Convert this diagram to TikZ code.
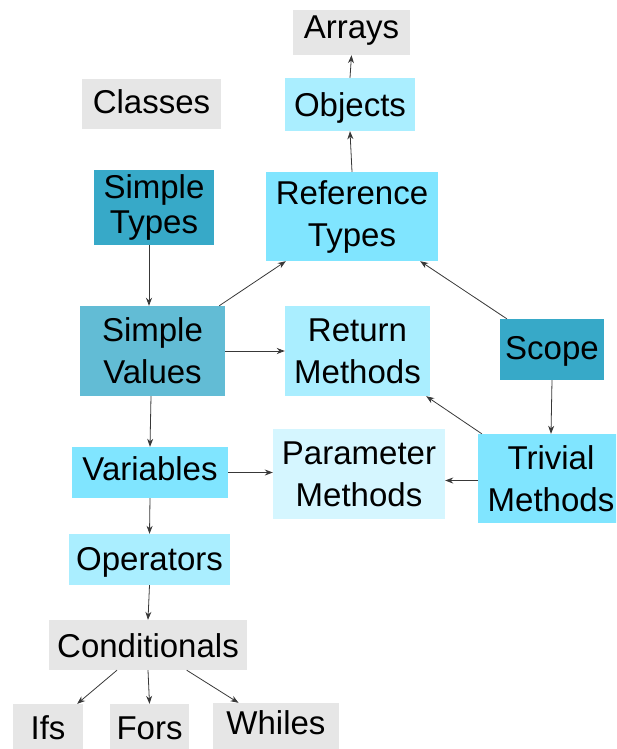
\documentclass[tikz,border=0pt]{standalone}
\usepackage{fontspec}
\setmainfont{Liberation Sans}
\usetikzlibrary{arrows.meta}

\definecolor{boxgray}{HTML}{E6E6E6}
\definecolor{palecyan}{HTML}{AAEEFF}
\definecolor{midcyan}{HTML}{80E5FF}
\definecolor{deepteal}{HTML}{37A9C8}
\definecolor{softteal}{HTML}{62BCD5}
\definecolor{faintcyan}{HTML}{D5F6FF}
\definecolor{linkgray}{HTML}{383838}

\begin{document}
\begin{tikzpicture}[x=1pt, y=-1pt,
  topic/.style={inner sep=0pt, align=center,
    font=\fontsize{33}{42}\selectfont},
  link/.style={draw=linkgray, line width=0.8pt,
    -{Stealth[length=8pt, width=6pt]}}
]
\useasboundingbox (0,0) rectangle (616,749);
\clip (0,0) rectangle (616,749);

% boxes
\node[topic, fill=boxgray, minimum width=117pt, minimum height=45pt,
  text height=18.6pt, text depth=7pt] (arrays) at (351.5,32.5) {Arrays};
\node[topic, fill=boxgray, minimum width=139pt, minimum height=50pt,
  text height=25.6pt, text depth=7pt] (classes) at (151.5,104) {Classes};
\node[topic, fill=palecyan, minimum width=130pt, minimum height=53pt,
  text height=31.4pt, text depth=7pt] (objects) at (350,104.5) {Objects};
\node[topic, fill=deepteal, minimum width=120pt, minimum height=75pt]
  (stypes) at (154,207.5) {Simple\\[-7pt]Types};
\node[topic, fill=midcyan, minimum width=172pt, minimum height=89pt]
  (rtypes) at (352,216.5) {Reference\\Types};
\node[topic, fill=softteal, minimum width=145pt, minimum height=90pt]
  (svalues) at (152.5,351) {Simple\\Values};
\node[topic, fill=palecyan, minimum width=145pt, minimum height=90pt]
  (rmethods) at (357.5,351) {Return\\Methods};
\node[topic, fill=deepteal, minimum width=104pt, minimum height=61pt,
  text height=26.6pt, text depth=7pt] (scope) at (552,349.5) {Scope};
\node[topic, fill=midcyan, minimum width=156pt, minimum height=51pt,
  text height=23.4pt, text depth=7pt] (variables) at (150,472.5) {Variables};
\node[topic, fill=faintcyan, minimum width=172pt, minimum height=90pt]
  (pmethods) at (359,474) {Parameter\\Methods};
\node[topic, fill=midcyan, minimum width=146pt, minimum height=89pt]
  (tmethods) at (551,478.5) {Trivial\\Methods};
\node[topic, fill=palecyan, minimum width=161pt, minimum height=51pt,
  text height=28pt, text depth=7pt] (operators) at (149.5,559.5) {Operators};
\node[topic, fill=boxgray, minimum width=198pt, minimum height=50pt,
  text height=32.4pt, text depth=7pt] (conds) at (148,645) {Conditionals};
\node[topic, fill=boxgray, minimum width=70pt, minimum height=50pt,
  text height=27pt, text depth=7pt] (ifs) at (48,729) {Ifs};
\node[topic, fill=boxgray, minimum width=79pt, minimum height=50pt,
  text height=27pt, text depth=7pt] (fors) at (149.5,729) {Fors};
\node[topic, fill=boxgray, minimum width=126pt, minimum height=50pt,
  text height=19pt, text depth=7pt] (whiles) at (276,728) {Whiles};

% connectors
\draw[link] (objects.north) -- (arrays.south);
\draw[link] (rtypes.north) -- (objects.south);
\draw[link] ([xshift=-5pt]stypes.south) -- ([xshift=-3.5pt]svalues.north);
\draw[link] ([xshift=-6pt]svalues.north east) -- ([xshift=20pt]rtypes.south west);
\draw[link] ([xshift=7pt]scope.north west) -- ([xshift=-18pt]rtypes.south east);
\draw[link] (svalues.east) -- (rmethods.west);
\draw[link] ([xshift=-1.5pt]svalues.south) -- (variables.north);
\draw[link] (variables.east) -- (variables.east -| pmethods.west);
\draw[link] ([yshift=-2pt]tmethods.west) -- ([yshift=-2pt]tmethods.west -| pmethods.east);
\draw[link] ([xshift=4pt]tmethods.north west) -- ([xshift=-4pt]rmethods.south east);
\draw[link] (scope.south) -- (tmethods.north);
\draw[link] (variables.south) -- (operators.north);
\draw[link] (operators.south) -- (conds.north);
\draw[link] ([xshift=-31pt]conds.south) -- ([xshift=-6pt]ifs.north east);
\draw[link] (conds.south) -- (fors.north);
\draw[link] ([xshift=38.7pt]conds.south) -- ([xshift=25.7pt]whiles.north west);
\end{tikzpicture}
\end{document}
